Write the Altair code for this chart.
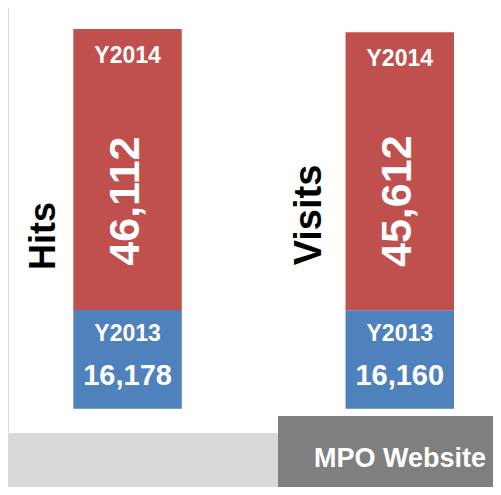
import altair as alt
import pandas as pd

metrics = ["Hits", "Visits"]
y2013 = [16178, 16160]
y2014 = [46112, 45612]
years = ["Y2013", "Y2014"]
colors = ["#4f81bd", "#c0504d"]

df = pd.DataFrame({"metric": metrics, "Y2013": y2013, "Y2014": y2014})

FONT = "Liberation Sans"
y_scale = alt.Scale(domain=[-3986, 65731], nice=False, zero=False)
x_enc = alt.X("metric:N", axis=None, sort=metrics,
              scale=alt.Scale(range=[64.3, 445], paddingInner=0.6015, paddingOuter=0))

base = alt.Chart(df)

bars = base.transform_fold(years, as_=["year", "value"]).mark_bar().encode(
    x=x_enc,
    y=alt.Y("value:Q", stack="zero", axis=None, scale=y_scale),
    color=alt.Color("year:N", scale=alt.Scale(domain=years, range=colors), legend=None),
    order=alt.Order("year:N", sort="ascending"),
)

tot = base.transform_calculate(total="datum.Y2013 + datum.Y2014")

lbl2014 = tot.mark_text(font=FONT, fontWeight="bold", fontSize=23, color="white",
                        baseline="middle", dy=27).encode(
    x=x_enc, y=alt.Y("total:Q", scale=y_scale, axis=None), text=alt.value("Y2014"))

num2014 = base.mark_text(font=FONT, fontWeight="bold", fontSize=43, color="white",
                         angle=270, align="center", baseline="middle", dx=109, dy=-2).encode(
    x=x_enc, y=alt.Y("Y2013:Q", scale=y_scale, axis=None),
    text=alt.Text("Y2014:Q", format=","))

lbl2013 = base.mark_text(font=FONT, fontWeight="bold", fontSize=23, color="white",
                         baseline="middle", dy=24).encode(
    x=x_enc, y=alt.Y("Y2013:Q", scale=y_scale, axis=None), text=alt.value("Y2013"))

num2013 = base.mark_text(font=FONT, fontWeight="bold", fontSize=29, color="white",
                         baseline="middle", dy=66).encode(
    x=x_enc, y=alt.Y("Y2013:Q", scale=y_scale, axis=None),
    text=alt.Text("Y2013:Q", format=","))

hits_lbl = base.transform_filter(alt.datum.metric == "Hits").mark_text(
    font=FONT, fontWeight="bold", fontSize=36, color="black",
    angle=270, align="center", baseline="middle", dx=172.7, dy=-83.5).encode(
    x=x_enc, y=alt.Y("zero:Q", scale=y_scale, axis=None), text="metric:N"
).transform_calculate(zero="0")

visits_lbl = base.transform_filter(alt.datum.metric == "Visits").mark_text(
    font=FONT, fontWeight="bold", fontSize=38, color="black",
    angle=270, align="center", baseline="middle", dx=193.7, dy=-89.5).encode(
    x=x_enc, y=alt.Y("zero:Q", scale=y_scale, axis=None), text="metric:N"
).transform_calculate(zero="0")

box = alt.Chart(pd.DataFrame({"t": ["MPO Website"]})).mark_rect(color="#7f7f7f").encode(
    x=alt.value(269), x2=alt.value(484), y=alt.value(408), y2=alt.value(479))

box_text = alt.Chart(pd.DataFrame({"t": ["MPO Website"]})).mark_text(
    font=FONT, fontWeight="bold", fontSize=27, color="white",
    align="center", baseline="middle").encode(
    x=alt.value(391), y=alt.value(451), text="t:N")

chart = alt.layer(bars, lbl2014, num2014, lbl2013, num2013, hits_lbl, visits_lbl,
                  box, box_text).properties(
    width=484, height=425, background="#d9d9d9",
    padding={"left": 1, "top": 0, "right": 0, "bottom": 54},
    autosize=alt.AutoSizeParams(type="none"),
).configure_view(fill="white", stroke=None)

chart.save("out.html", embed_options={"renderer": "svg", "actions": False})
